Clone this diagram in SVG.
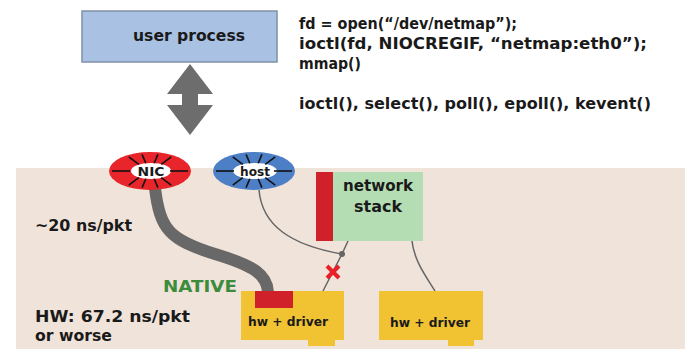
<svg xmlns="http://www.w3.org/2000/svg" xmlns:xlink="http://www.w3.org/1999/xlink" width="688" height="349" viewBox="0 0 688 349">
<style>
  text { font-family: "DejaVu Sans", "Noto Sans", sans-serif; fill: #1a1a1a; font-weight: bold; }
  .code { font-size: 16px; }
  .lbl { font-size: 16px; }
  .small { font-size: 13px; }
  .hw { fill: #f1c232; }
  .red { fill: #d0202a; }
  .tick { stroke: #111; stroke-width: 1.6; }
  .thin { fill: none; stroke: #666; stroke-width: 1.5; }
</style>
<defs>
  <g id="ticks" class="tick">
    <line x1="-11.2" y1="-6.6" x2="-21.2" y2="-14.1"/>
    <line x1="-4.2" y1="-7.8" x2="-7.9" y2="-16.6"/>
    <line x1="4.2" y1="-7.8" x2="7.9" y2="-16.6"/>
    <line x1="11.2" y1="-6.6" x2="21.2" y2="-14.1"/>
    <line x1="11.2" y1="6.6" x2="21.2" y2="14.1"/>
    <line x1="4.2" y1="7.8" x2="7.9" y2="16.6"/>
    <line x1="-4.2" y1="7.8" x2="-7.9" y2="16.6"/>
    <line x1="-11.2" y1="6.6" x2="-21.2" y2="14.1"/>
    <line x1="20" y1="0" x2="38" y2="0"/>
    <line x1="-20" y1="0" x2="-38" y2="0"/>
  </g>
</defs>

<rect id="kernel-area" x="16" y="168" width="669" height="181" fill="#f0e3d9"/>

<g id="user-process">
  <rect x="82" y="11" width="195" height="51" fill="#a9c1e3" stroke="#8090a8" stroke-width="1.5"/>
  <text class="lbl" x="189" y="41" text-anchor="middle" font-size="15" textLength="112" lengthAdjust="spacingAndGlyphs">user process</text>
</g>

<g id="code">
  <text class="code" x="299" y="29" textLength="218" lengthAdjust="spacingAndGlyphs">fd = open(“/dev/netmap”);</text>
  <text class="code" x="299" y="49" textLength="348" lengthAdjust="spacingAndGlyphs">ioctl(fd, NIOCREGIF, “netmap:eth0”);</text>
  <text class="code" x="299" y="69" textLength="62" lengthAdjust="spacingAndGlyphs">mmap()</text>
  <text class="code" x="299" y="109" textLength="352" lengthAdjust="spacingAndGlyphs">ioctl(), select(), poll(), epoll(), kevent()</text>
</g>

<g id="connectors">
  <polygon points="190,64 213,94 198,94 198,105 213,105 190,135 167,105 182,105 182,94 167,94" fill="#6d6d6d"/>
  <path d="M155,188 C160,230 170,240 215,254 C255,266 267,275 268,292" fill="none" stroke="#686868" stroke-width="12"/>
  <path class="thin" d="M259,190 C262,225 290,245 342,254"/>
  <path class="thin" d="M348,241 L342,254 L323,291"/>
  <circle cx="342" cy="254" r="3" fill="#666"/>
  <path class="thin" d="M412,241 C414,260 425,275 435,291"/>
  <g id="blocked" stroke="#e8202a" stroke-width="4">
    <line x1="327" y1="266" x2="339" y2="278"/>
    <line x1="339" y1="266" x2="327" y2="278"/>
  </g>
</g>

<g id="nic-ring">
  <ellipse cx="150" cy="171" rx="41" ry="19" fill="#e8252b"/>
  <ellipse cx="151" cy="171" rx="20" ry="8" fill="#ffffff"/>
  <use xlink:href="#ticks" transform="translate(150,171)"/>
  <text x="151" y="176" text-anchor="middle" font-size="13" textLength="27" lengthAdjust="spacingAndGlyphs">NIC</text>
</g>

<g id="host-ring">
  <ellipse cx="254" cy="171" rx="41" ry="19" fill="#4d7fc6"/>
  <ellipse cx="255" cy="171" rx="22" ry="8" fill="#ffffff"/>
  <use xlink:href="#ticks" transform="translate(254,171)"/>
  <text x="255" y="176" text-anchor="middle" font-size="13" textLength="30" lengthAdjust="spacingAndGlyphs">host</text>
</g>

<g id="network-stack">
  <rect x="333" y="172" width="90" height="69" fill="#b5ddb3"/>
  <rect class="red" x="316" y="172" width="17" height="69"/>
  <text class="lbl" x="378" y="191" text-anchor="middle" textLength="70" lengthAdjust="spacingAndGlyphs">network</text>
  <text class="lbl" x="378" y="212" text-anchor="middle" textLength="48" lengthAdjust="spacingAndGlyphs">stack</text>
</g>

<g id="hw-driver-native">
  <rect class="hw" x="241" y="291" width="103" height="49"/>
  <rect class="hw" x="308" y="339" width="27" height="7"/>
  <rect class="red" x="255" y="291" width="38" height="17"/>
  <text class="small" x="288" y="326" text-anchor="middle" textLength="80" lengthAdjust="spacingAndGlyphs">hw + driver</text>
</g>

<g id="hw-driver">
  <rect class="hw" x="379" y="291" width="104" height="49"/>
  <rect class="hw" x="448" y="339" width="26" height="7"/>
  <text class="small" x="430" y="327" text-anchor="middle" textLength="80" lengthAdjust="spacingAndGlyphs">hw + driver</text>
</g>

<g id="labels">
  <text class="lbl" x="35" y="231" textLength="97" lengthAdjust="spacingAndGlyphs">~20 ns/pkt</text>
  <text class="lbl" x="163" y="292" style="fill:#3d8b3d" textLength="74" lengthAdjust="spacingAndGlyphs">NATIVE</text>
  <text class="lbl" x="35" y="322" textLength="155" lengthAdjust="spacingAndGlyphs">HW: 67.2 ns/pkt</text>
  <text class="lbl" x="35" y="341" textLength="77" lengthAdjust="spacingAndGlyphs">or worse</text>
</g>
</svg>
